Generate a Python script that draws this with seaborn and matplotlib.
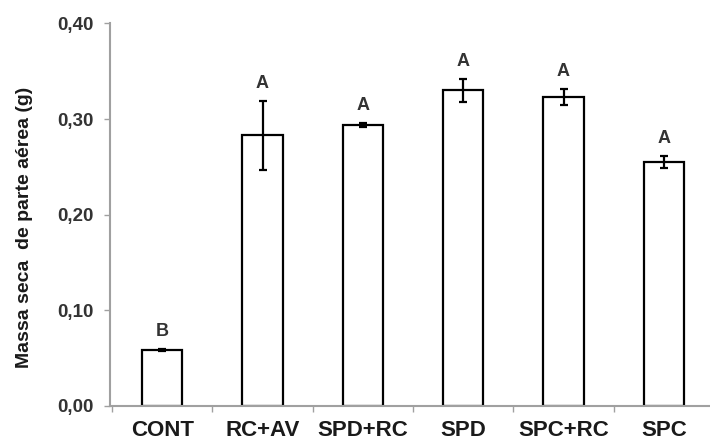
import matplotlib
matplotlib.use("Agg")
import matplotlib.pyplot as plt
import seaborn as sns
import numpy as np
import pandas as pd
from matplotlib.ticker import FixedLocator, FuncFormatter

categories = ["CONT", "RC+AV", "SPD+RC", "SPD", "SPC+RC", "SPC"]
means = [0.059, 0.283, 0.294, 0.330, 0.323, 0.255]
errors = [0.001, 0.036, 0.002, 0.012, 0.008, 0.006]
letters = ["B", "A", "A", "A", "A", "A"]
yticks = [0.0, 0.1, 0.2, 0.3, 0.4]
ylabel = "Massa seca  de parte aérea (g)"

sns.set_theme(style="white")
plt.rcParams["font.family"] = ["Liberation Sans", "DejaVu Sans"]

df = pd.DataFrame({"cat": categories, "val": means})

fig = plt.figure(figsize=(7.1, 4.41), dpi=100)
ax = fig.add_axes([0.155, 0.0794, 0.845, 0.8676])

sns.barplot(data=df, x="cat", y="val", order=categories, color="white",
            edgecolor="black", linewidth=1.6, width=0.4, errorbar=None, ax=ax)
xs = np.arange(len(categories))
ax.errorbar(xs, means, yerr=errors, fmt="none", ecolor="black",
            elinewidth=1.6, capsize=3, capthick=1.6, zorder=5)

for x, m, e, t in zip(xs, means, errors, letters):
    ax.annotate(t, xy=(x, m + e), xytext=(0, 6.5), textcoords="offset points",
                ha="center", va="bottom", fontsize=13, fontweight="bold",
                color="#333333")

ax.set_xlim(-0.52, 5.46)
ax.set_ylim(0, 0.4)
ax.set_yticks(yticks)
ax.yaxis.set_major_formatter(FuncFormatter(lambda v, p: f"{v:.2f}".replace(".", ",")))
for lab in ax.get_yticklabels():
    lab.set_fontweight("bold")
ax.tick_params(axis="y", which="major", direction="out", length=4, width=1,
               color="#a0a0a0", labelsize=13.5, labelcolor="#333333", pad=8, left=True)

ax.xaxis.set_minor_locator(FixedLocator(np.arange(len(categories)) - 0.5))
ax.tick_params(axis="x", which="major", length=0, labelsize=16, labelcolor="#1a1a1a", pad=10)
for lab in ax.get_xticklabels():
    lab.set_fontweight("bold")
ax.tick_params(axis="x", which="minor", direction="out", length=4, width=1,
               color="#a0a0a0", bottom=True)
ax.set_xlabel("")
ax.set_ylabel(ylabel, fontsize=14, fontweight="bold", color="#1a1a1a")
ax.yaxis.set_label_coords(-0.128, 0.468)

for s in ["top", "right"]:
    ax.spines[s].set_visible(False)
for s in ["left", "bottom"]:
    ax.spines[s].set_color("#a0a0a0")
    ax.spines[s].set_linewidth(1.5)

fig.savefig("out.png", dpi=100)
